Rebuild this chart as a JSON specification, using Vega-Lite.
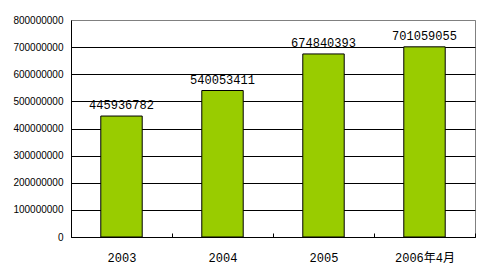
{
  "$schema": "https://vega.github.io/schema/vega-lite/v6.json",
  "autosize": "none",
  "width": 404,
  "height": 217,
  "padding": {"left": 71, "top": 20, "right": 12, "bottom": 43},
  "background": "white",
  "config": {
    "view": {"stroke": "#808080", "strokeWidth": 1}
  },
  "data": {
    "values": [
      {"period": "2003", "value": 445936782},
      {"period": "2004", "value": 540053411},
      {"period": "2005", "value": 674840393},
      {"period": "2006年4月", "value": 701059055}
    ]
  },
  "encoding": {
    "x": {
      "field": "period",
      "type": "nominal",
      "sort": null,
      "scale": {"paddingInner": 0, "paddingOuter": 0},
      "axis": {
        "title": null,
        "labelAngle": 0,
        "labelFont": "Liberation Mono, Noto Sans CJK SC",
        "labelFontSize": 12,
        "labelColor": "black",
        "labelPadding": 19,
        "domainColor": "black",
        "tickColor": "black",
        "tickBand": "extent",
        "tickSize": -4,
        "tickWidth": 1,
        "zindex": 1,
        "grid": false
      }
    },
    "y": {
      "field": "value",
      "type": "quantitative",
      "scale": {"domain": [0, 800000000], "nice": false},
      "axis": {
        "title": null,
        "values": [0, 100000000, 200000000, 300000000, 400000000, 500000000, 600000000, 700000000, 800000000],
        "format": "d",
        "ticks": false,
        "labelPadding": 8,
        "labelFont": "Liberation Sans",
        "labelFontSize": 10,
        "labelColor": "black",
        "domainColor": "black",
        "grid": true,
        "gridColor": {"condition": {"test": "datum.value == 800000000", "value": "#808080"}, "value": "black"},
        "gridOpacity": 1
      }
    }
  },
  "layer": [
    {
      "mark": {"type": "bar", "color": "#99cc00", "stroke": "black", "strokeWidth": 1, "width": {"band": 0.41}}
    },
    {
      "mark": {"type": "text", "baseline": "alphabetic", "dy": -7, "font": "Liberation Mono", "fontSize": 12, "color": "black"},
      "encoding": {"text": {"field": "value", "type": "quantitative", "format": "d"}}
    }
  ]
}
